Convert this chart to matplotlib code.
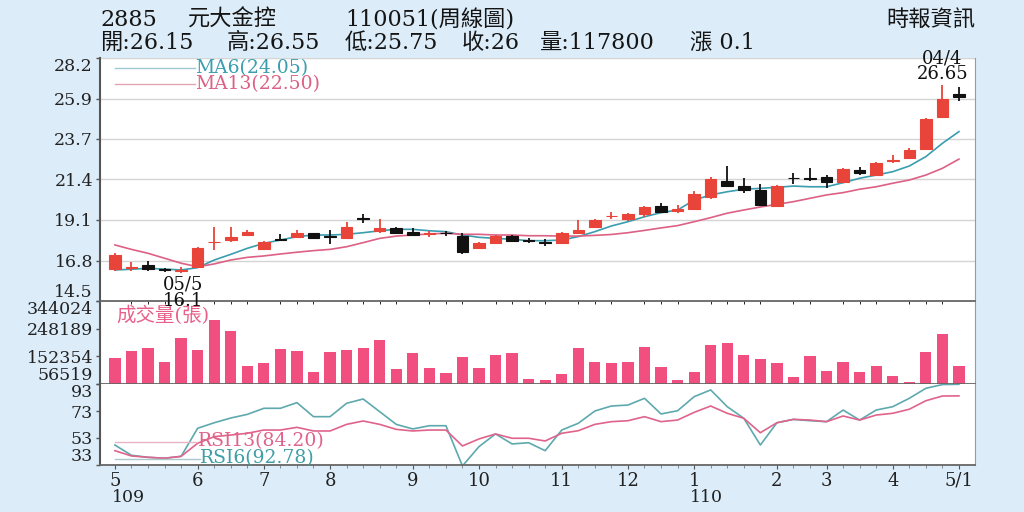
import numpy as np
import matplotlib.pyplot as plt

plt.rcParams['font.family'] = ['DejaVu Serif', 'Noto Sans CJK TC']

# weekly data, 2885 (109/05 .. 110/04)
weeks = np.arange(52)
opens = [16.29, 16.35, 16.53, 16.27, 16.19, 16.40, 17.80, 17.94, 18.22, 17.41,
         17.97, 18.13, 18.32, 18.15, 18.03, 19.18, 18.46, 18.60, 18.41, 18.30,
         18.33, 18.16, 17.47, 17.79, 18.16, 17.92, 17.85, 17.75, 18.32, 18.65,
         19.27, 19.12, 19.40, 19.87, 19.57, 19.67, 20.38, 21.28, 21.00, 20.76,
         19.88, 21.44, 21.45, 21.51, 21.23, 21.89, 21.60, 22.38, 22.55, 23.05,
         24.89, 26.15]
highs = [17.19, 16.72, 16.77, 16.38, 16.43, 17.56, 18.69, 18.69, 18.50, 17.90,
         18.26, 18.50, 18.35, 18.50, 18.97, 19.40, 19.11, 18.69, 18.63, 18.45,
         18.46, 18.32, 17.83, 18.20, 18.22, 18.07, 17.98, 18.39, 19.07, 19.12,
         19.53, 19.44, 19.86, 20.01, 19.91, 20.72, 21.51, 22.11, 21.42, 21.08,
         21.02, 21.70, 22.02, 21.60, 21.98, 22.04, 22.35, 22.73, 23.11, 24.82,
         26.65, 26.55]
lows = [16.19, 16.19, 16.21, 16.15, 16.10, 16.34, 17.38, 17.84, 18.16, 17.38,
        17.88, 18.07, 18.01, 17.71, 17.98, 18.88, 18.35, 18.26, 18.16, 18.13,
        18.16, 17.15, 17.43, 17.77, 17.84, 17.75, 17.60, 17.71, 18.28, 18.62,
        19.11, 19.03, 19.22, 19.48, 19.48, 19.63, 20.25, 20.90, 20.57, 19.86,
        19.84, 21.10, 21.28, 20.89, 21.14, 21.60, 21.55, 22.30, 22.49, 23.01,
        24.86, 25.75]
closes = [17.09, 16.40, 16.29, 16.24, 16.25, 17.47, 17.85, 18.13, 18.41, 17.84,
          17.93, 18.32, 18.07, 18.12, 18.69, 19.15, 18.60, 18.32, 18.22, 18.34,
          18.31, 17.28, 17.79, 18.18, 17.90, 17.89, 17.78, 18.32, 18.50, 19.07,
          19.31, 19.39, 19.78, 19.53, 19.67, 20.53, 21.38, 21.01, 20.76, 19.91,
          21.00, 21.41, 21.40, 21.23, 21.93, 21.70, 22.26, 22.43, 23.01, 24.74,
          25.90, 26.00]
ma6 = [16.25, 16.29, 16.34, 16.30, 16.25, 16.38, 16.81, 17.13, 17.47, 17.75,
       17.94, 18.13, 18.22, 18.22, 18.26, 18.35, 18.46, 18.54, 18.54, 18.46,
       18.41, 18.22, 18.09, 18.03, 17.98, 17.90, 17.90, 17.94, 18.13, 18.41,
       18.73, 18.97, 19.25, 19.48, 19.63, 20.19, 20.48, 20.66, 20.80, 20.85,
       20.91, 20.98, 20.94, 20.94, 21.17, 21.42, 21.60, 21.79, 22.11, 22.64,
       23.39, 24.05]
ma13 = [17.66, 17.41, 17.19, 16.91, 16.63, 16.43, 16.59, 16.81, 16.96, 17.04,
        17.15, 17.25, 17.34, 17.41, 17.56, 17.79, 18.03, 18.16, 18.22, 18.28,
        18.32, 18.26, 18.26, 18.22, 18.22, 18.18, 18.18, 18.16, 18.16, 18.20,
        18.25, 18.35, 18.48, 18.62, 18.75, 18.97, 19.20, 19.45, 19.63, 19.80,
        19.95, 20.10, 20.29, 20.48, 20.61, 20.80, 20.94, 21.14, 21.32, 21.60,
        21.98, 22.50]
volume = [145500, 170800, 182300, 133800, 214800, 174300, 278200, 240100, 119900, 130300,
          176700, 170800, 99100, 166300, 174300, 182300, 207900, 108500, 164900, 110900,
          95600, 149000, 110900, 157000, 163900, 72800, 71400, 90100, 180200, 133800,
          129200, 132700, 183600, 115400, 69300, 98100, 191600, 197500, 158000, 144100,
          130300, 80700, 153500, 102600, 132700, 97000, 119900, 85300, 62400, 166300,
          228700, 117800]
rsi6 = [47.8, 40.2, 38.7, 38.0, 39.4, 60.2, 64.3, 67.8, 70.5, 75.0,
        75.0, 79.2, 68.8, 68.8, 78.7, 81.9, 72.5, 63.1, 59.7, 62.1,
        62.1, 32.3, 46.6, 56.0, 48.6, 49.5, 43.6, 58.9, 63.9, 73.0,
        76.7, 77.4, 82.4, 70.8, 73.2, 83.6, 88.6, 76.2, 67.6, 47.8,
        64.3, 66.8, 65.8, 65.1, 73.7, 66.3, 73.7, 76.2, 82.4, 89.8,
        92.6, 92.78]
rsi13 = [43.6, 39.7, 38.7, 38.0, 39.4, 49.1, 54.0, 55.2, 56.5, 58.9,
         58.9, 60.9, 58.2, 58.2, 63.1, 65.6, 63.1, 59.4, 58.2, 58.9,
         58.9, 47.1, 52.3, 56.0, 52.8, 52.8, 50.8, 56.5, 58.4, 63.1,
         65.1, 65.8, 68.8, 65.1, 66.3, 72.0, 76.7, 71.3, 67.6, 56.9,
         64.3, 66.8, 66.3, 65.1, 69.3, 66.3, 70.0, 71.3, 74.3, 80.6,
         84.1, 84.2]

price_ticks = ['14.5', '16.8', '19.1', '21.4', '23.7', '25.9', '28.2']
vol_ticks = [56519, 152354, 248189, 344024]
rsi_ticks = [33, 53, 73, 93]
month_pos = [0, 5, 9, 13, 18, 22, 27, 31, 35, 40, 43, 47, 51]
month_lab = ['5', '6', '7', '8', '9', '10', '11', '12', '1', '2', '3', '4', '5/1']

bg = '#dcedf9'
up_c = '#e8443a'
dn_c = '#111111'
teal = '#3a9db0'
pink = '#dd6085'
bar_c = '#f04f80'

fig = plt.figure(figsize=(10.24, 5.12), dpi=100, facecolor=bg)
L, W = 100 / 1024, 875 / 1024
ax1 = fig.add_axes([L, 1 - 301 / 512, W, 243 / 512])
ax2 = fig.add_axes([L, 1 - 384 / 512, W, 83 / 512], sharex=ax1)
ax3 = fig.add_axes([L, 1 - 465 / 512, W, 81 / 512], sharex=ax1)
ax1.set_zorder(3)  # so the low annotation sits over the volume panel

for ax in (ax1, ax2, ax3):
    ax.set_facecolor('white')
    ax.spines['top'].set_visible(False)
    ax.spines['left'].set_color('#555555')
    ax.spines['left'].set_linewidth(1.5)
    ax.spines['right'].set_color('#9a9a9a')
    ax.spines['bottom'].set_color('#666666')
    ax.spines['bottom'].set_linewidth(1.3)
    ax.tick_params(axis='y', length=3, width=1, color='#555555', pad=2,
                   labelsize=12.5, labelcolor='#222222')
ax1.set_xlim(-0.9, 51.97)

# price panel
o = np.array(opens); c = np.array(closes)
cols = [up_c if cc >= oo else dn_c for oo, cc in zip(o, c)]
ax1.plot(weeks, ma6, color=teal, lw=1.2, zorder=2)
ax1.plot(weeks, ma13, color=pink, lw=1.2, zorder=2)
ax1.vlines(weeks, lows, highs, colors=cols, lw=1.3, zorder=3)
ax1.bar(weeks, np.maximum(np.abs(c - o), 0.04), bottom=np.minimum(o, c), width=0.7,
        color=cols, edgecolor=cols, lw=0.8, zorder=4)
yt = np.linspace(14.5, 28.2, 7)
ax1.set_ylim(14.5, 28.2)
ax1.set_yticks(yt)
ax1.set_yticklabels(price_ticks)
ax1.grid(axis='y', color='#d4d4d4', lw=1)
ax1.set_axisbelow(True)
ax1.tick_params(axis='x', bottom=False, labelbottom=False)
tl = ax1.get_yticklabels()
tl[0].set_va('bottom'); tl[-1].set_va('top')

ax1.plot([0.017, 0.109], [0.959, 0.959], transform=ax1.transAxes, color='#9fc9d2', lw=1)
ax1.plot([0.017, 0.109], [0.893, 0.893], transform=ax1.transAxes, color='#e3a5b6', lw=1)
ax1.text(0.109, 0.958, 'MA6(24.05)', transform=ax1.transAxes, color=teal,
         fontsize=13.5, va='center', ha='left')
ax1.text(0.109, 0.892, 'MA13(22.50)', transform=ax1.transAxes, color=pink,
         fontsize=13.5, va='center', ha='left')

ax1.annotate('05/5\n16.1', (4.1, lows[4]), xytext=(0, -3), textcoords='offset pixels',
             ha='center', va='top', fontsize=13, linespacing=0.85, color='#111111',
             annotation_clip=False, zorder=6)
ax1.annotate('04/4\n26.65', (50, highs[50]), xytext=(0, 2), textcoords='offset pixels',
             ha='center', va='bottom', fontsize=13, linespacing=0.85, color='#111111',
             annotation_clip=False, zorder=6)

# volume panel
ax2.bar(weeks, volume, width=0.68, color=bar_c, zorder=2)
ax2.set_ylim(56519, 344024)
ax2.set_yticks(vol_ticks)
ax2.set_yticklabels([str(v) for v in vol_ticks])
tl = ax2.get_yticklabels()
tl[0].set_va('bottom'); tl[-1].set_va('top')
ax2.tick_params(axis='x', bottom=False, labelbottom=False)
ax2.text(0.019, 0.82, '成交量(張)', transform=ax2.transAxes, color='#e8608a',
         fontsize=14, va='center', ha='left', zorder=5)

# RSI panel
ax3.plot(weeks, rsi6, color='#5ea9ae', lw=1.2)
ax3.plot(weeks, rsi13, color='#e0638b', lw=1.2)
ax3.set_ylim(33, 93)
ax3.set_yticks(rsi_ticks)
tl = ax3.get_yticklabels()
tl[0].set_va('bottom'); tl[-1].set_va('top')
ax3.plot([0.017, 0.111], [0.284, 0.284], transform=ax3.transAxes, color='#e9b4c3', lw=1)
ax3.plot([0.017, 0.114], [0.074, 0.074], transform=ax3.transAxes, color='#a9c9cc', lw=1)
ax3.text(0.112, 0.29, 'RSI13(84.20)', transform=ax3.transAxes, color='#e0638b',
         fontsize=13.5, va='center', ha='left')
ax3.text(0.114, 0.08, 'RSI6(92.78)', transform=ax3.transAxes, color='#3f9ea6',
         fontsize=13.5, va='center', ha='left')

ax3.set_xticks(weeks, minor=True)
ax3.set_xticks(month_pos)
ax3.set_xticklabels(month_lab)
ax3.tick_params(axis='x', which='major', length=3, color='#555555', labelsize=13,
                pad=2, labelcolor='#222222')
ax3.tick_params(axis='x', which='minor', length=2, color='#777777')

fig.text(112 / 1024, 1 - 497 / 512, '109', fontsize=12.5, ha='left', va='center', color='#222222')
fig.text(690 / 1024, 1 - 497 / 512, '110', fontsize=12.5, ha='left', va='center', color='#222222')

# header
def head(x, y, s, size=16):
    fig.text(x / 1024, 1 - y / 512, s, fontsize=size, ha='left', va='center', color='#151515')

head(100, 20, '2885')
head(188, 20, '元大金控')
head(345, 20, '110051(周線圖)')
head(100, 43, '開:26.15')
head(227, 43, '高:26.55')
head(345, 43, '低:25.75')
head(462, 43, '收:26')
head(540, 43, '量:117800')
head(690, 43, '漲 0.1')
fig.text(975 / 1024, 1 - 20 / 512, '時報資訊', fontsize=16, ha='right', va='center',
         color='#151515')

fig.savefig('out.png', dpi=100, facecolor=bg)
